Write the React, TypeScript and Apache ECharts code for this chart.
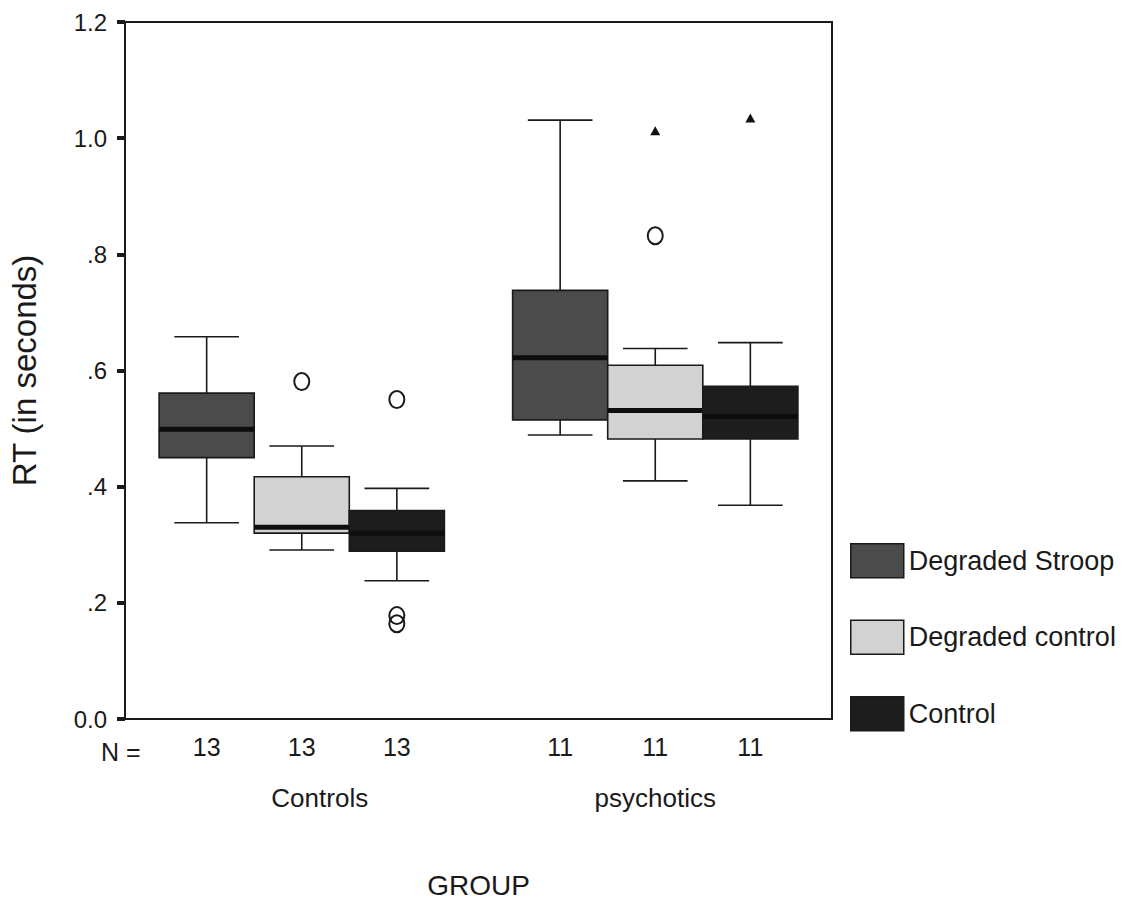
import React, { useEffect, useRef } from "react";
import * as echarts from "echarts";

// ---- data ----
const categories = ["Controls", "psychotics"];
const seriesNames = ["Degraded Stroop", "Degraded control", "Control"];
const seriesColors = ["#4b4b4b", "#d2d2d2", "#1d1d1d"];
// [min, q1, median, q3, max] per group
const stroopStats = [
  [0.338, 0.45, 0.499, 0.561, 0.658],
  [0.489, 0.515, 0.622, 0.738, 1.031],
];
const degradedControlStats = [
  [0.291, 0.32, 0.33, 0.417, 0.47],
  [0.41, 0.482, 0.531, 0.609, 0.638],
];
const controlStats = [
  [0.238, 0.289, 0.32, 0.359, 0.397],
  [0.368, 0.482, 0.521, 0.573, 0.648],
];
const stroopN = [13, 11];
const degradedControlN = [13, 11];
const controlN = [13, 11];
// [groupIndex, seriesIndex, value]
const outlierPoints = [
  [0, 1, 0.581],
  [0, 2, 0.55],
  [0, 2, 0.178],
  [0, 2, 0.164],
  [1, 1, 0.832],
];
const extremePoints = [
  [1, 1, 1.012],
  [1, 2, 1.034],
];
const yTickLabels = ["0.0", ".2", ".4", ".6", ".8", "1.0", "1.2"];

const FONT = '"Liberation Sans", Arial, sans-serif';
const BOX_FRAC = 0.269;
const CAP_FRAC = 0.68;
const INK = "#1a1a1a";

const allStats = [stroopStats, degradedControlStats, controlStats];
const allN = [stroopN, degradedControlN, controlN];

function makeBoxSeries(si: number) {
  const data = allStats[si].map((s, gi) => [gi, ...s, allN[si][gi]]);
  return {
    name: seriesNames[si],
    type: "custom",
    itemStyle: { color: seriesColors[si] },
    encode: { x: 0, y: [1, 2, 3, 4, 5] },
    data,
    clip: false,
    renderItem: (params: any, api: any) => {
      const cat = api.value(0);
      const band = api.size([1, 0])[0];
      const bw = band * BOX_FRAC;
      const cx = api.coord([cat, 0])[0] + (si - 1) * bw;
      const yMin = api.coord([cat, api.value(1)])[1];
      const yQ1 = api.coord([cat, api.value(2)])[1];
      const yMed = api.coord([cat, api.value(3)])[1];
      const yQ3 = api.coord([cat, api.value(4)])[1];
      const yMax = api.coord([cat, api.value(5)])[1];
      const n = api.value(6);
      const cap = bw * CAP_FRAC;
      const lineStyle = { stroke: INK, lineWidth: 1.6 };
      const bottom = params.coordSys.y + params.coordSys.height;
      return {
        type: "group",
        children: [
          { type: "line", shape: { x1: cx, y1: yMax, x2: cx, y2: yQ3 }, style: lineStyle },
          { type: "line", shape: { x1: cx, y1: yQ1, x2: cx, y2: yMin }, style: lineStyle },
          { type: "line", shape: { x1: cx - cap / 2, y1: yMax, x2: cx + cap / 2, y2: yMax }, style: lineStyle },
          { type: "line", shape: { x1: cx - cap / 2, y1: yMin, x2: cx + cap / 2, y2: yMin }, style: lineStyle },
          {
            type: "rect",
            shape: { x: cx - bw / 2, y: yQ3, width: bw, height: yQ1 - yQ3 },
            style: { fill: seriesColors[si], stroke: INK, lineWidth: 1.6 },
          },
          {
            type: "rect",
            shape: { x: cx - bw / 2, y: yMed - 2.5, width: bw, height: 5 },
            style: { fill: "#0d0d0d" },
          },
          {
            type: "text",
            style: {
              text: String(n),
              x: cx,
              y: bottom + 28,
              align: "center",
              verticalAlign: "middle",
              fontSize: 25,
              fontFamily: FONT,
              fill: INK,
            },
          },
        ],
      };
    },
  };
}

function makePointSeries(name: string, points: number[][], kind: "circle" | "triangle") {
  return {
    name,
    type: "custom",
    encode: { x: 0, y: 2 },
    data: points,
    clip: false,
    renderItem: (params: any, api: any) => {
      const cat = api.value(0);
      const si = api.value(1);
      const band = api.size([1, 0])[0];
      const bw = band * BOX_FRAC;
      const x = api.coord([cat, 0])[0] + (si - 1) * bw;
      const y = api.coord([cat, api.value(2)])[1];
      if (kind === "circle") {
        return {
          type: "ellipse",
          shape: { cx: x, cy: y, rx: 7.5, ry: 8.5 },
          style: { fill: "none", stroke: INK, lineWidth: 2 },
        };
      }
      return {
        type: "polygon",
        shape: { points: [[x - 5, y + 4], [x + 5, y + 4], [x, y - 5]] },
        style: { fill: "#111" },
      };
    },
  };
}

export default function App() {
  const ref = useRef<HTMLDivElement>(null);
  useEffect(() => {
    if (!ref.current) return;
    const chart = echarts.init(ref.current, null, { renderer: "svg" });
    chart.setOption({
      animation: false,
      backgroundColor: "#ffffff",
      grid: {
        left: 125,
        right: 294,
        top: 22,
        bottom: 180,
        show: true,
        borderColor: INK,
        borderWidth: 2,
        backgroundColor: "transparent",
      },
      legend: {
        data: seriesNames,
        orient: "vertical",
        left: 850,
        top: 543,
        padding: 0,
        itemWidth: 53,
        itemHeight: 34,
        itemGap: 41,
        itemTextGap: 5,
        icon: "rect",
        selectedMode: false,
        itemStyle: { borderColor: INK, borderWidth: 1.5 },
        textStyle: { fontSize: 27, fontFamily: FONT, color: INK },
      },
      xAxis: {
        type: "category",
        data: categories,
        boundaryGap: true,
        name: "GROUP",
        nameLocation: "middle",
        nameGap: 152,
        nameTextStyle: { fontSize: 28, fontFamily: FONT, color: INK },
        axisLine: { lineStyle: { color: INK, width: 2 } },
        axisTick: { alignWithLabel: true, length: 5, lineStyle: { color: INK, width: 4 } },
        axisLabel: {
          margin: 66,
          formatter: (v: string, i: number) => (i === 0 ? `{a|${v}}` : `{b|${v}}`),
          rich: {
            a: { fontSize: 26, fontFamily: FONT, color: INK, padding: [0, 0, 0, 36] },
            b: { fontSize: 26, fontFamily: FONT, color: INK },
          },
        },
        splitLine: { show: false },
      },
      yAxis: {
        type: "value",
        min: 0,
        max: 1.2,
        interval: 0.2,
        name: "RT (in seconds)",
        nameLocation: "middle",
        nameGap: 84,
        nameRotate: 90,
        nameTextStyle: { fontSize: 33, fontFamily: FONT, color: INK },
        axisLine: { show: true, lineStyle: { color: INK, width: 2 } },
        axisTick: { show: true, length: 8, lineStyle: { color: INK, width: 4 } },
        axisLabel: {
          margin: 18,
          fontSize: 24,
          fontFamily: FONT,
          color: INK,
          formatter: (_v: number, i: number) => yTickLabels[i],
        },
        splitLine: { show: false },
      },
      graphic: [
        {
          type: "text",
          left: 101,
          top: 739,
          style: { text: "N =", fontSize: 25, fontFamily: FONT, fill: INK },
        },
      ],
      series: [
        makeBoxSeries(0),
        makeBoxSeries(1),
        makeBoxSeries(2),
        makePointSeries("Outliers", outlierPoints, "circle"),
        makePointSeries("Extremes", extremePoints, "triangle"),
      ],
    });
    return () => chart.dispose();
  }, []);
  return <div ref={ref} style={{ width: 1126, height: 904, margin: -8 }} />;
}
